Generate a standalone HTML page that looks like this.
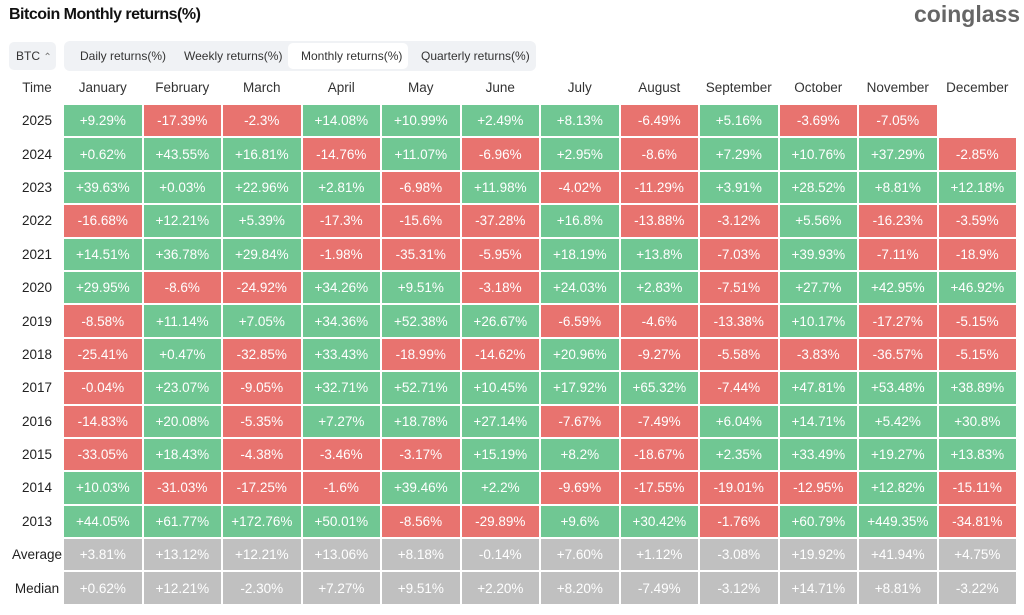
<!DOCTYPE html>
<html><head><meta charset="utf-8"><style>
body{margin:0;width:1024px;height:615px;background:#fff;font-family:"Liberation Sans",sans-serif;position:relative;overflow:hidden}
.title{position:absolute;left:9px;top:6px;font-size:16px;font-weight:bold;color:#111;letter-spacing:-0.5px}
.logo{position:absolute;left:914px;top:1px;font-size:23px;font-weight:bold;color:#666;letter-spacing:0px}
.btc{position:absolute;left:9px;top:42px;width:47px;height:28px;background:#f0f2f5;border-radius:5px;font-size:12px;color:#333;line-height:28px;text-indent:7px}
.tabs{position:absolute;left:64px;top:41px;width:472px;height:30px;background:#f0f2f5;border-radius:6px;font-size:12px;color:#333}
.tabs span{position:absolute;top:0;line-height:30px}
.act{position:absolute;left:224px;top:2px;width:120px;height:26px;background:#fff;border-radius:5px}
table{position:absolute;left:0;top:69.6px;border-collapse:separate;border-spacing:2px;table-layout:fixed}
td{height:31.4px;padding:0;text-align:center;font-size:13.5px;color:#fff;width:77.5px}
td.t{width:60px;color:#222;font-size:13.5px;padding-left:10px;width:50px}
tr.h td{color:#333}
.g{background:#70c793}.r{background:#e8736f}.a{background:#c0c0c0}
</style></head><body>
<div class="title">Bitcoin Monthly returns(%)</div>
<div class="logo">coinglass</div>
<div class="btc">BTC <span style="font-size:10px;color:#777">⌃</span></div>
<div class="tabs"><div class="act"></div><span style="left:16px">Daily returns(%)</span><span style="left:120px">Weekly returns(%)</span><span style="left:237px">Monthly returns(%)</span><span style="left:357px">Quarterly returns(%)</span></div>
<table>
<tr class="h"><td class="t">Time</td><td>January</td><td>February</td><td>March</td><td>April</td><td>May</td><td>June</td><td>July</td><td>August</td><td>September</td><td>October</td><td>November</td><td>December</td></tr>
<tr><td class="t">2025</td><td class="g">+9.29%</td><td class="r">-17.39%</td><td class="r">-2.3%</td><td class="g">+14.08%</td><td class="g">+10.99%</td><td class="g">+2.49%</td><td class="g">+8.13%</td><td class="r">-6.49%</td><td class="g">+5.16%</td><td class="r">-3.69%</td><td class="r">-7.05%</td><td></td></tr>
<tr><td class="t">2024</td><td class="g">+0.62%</td><td class="g">+43.55%</td><td class="g">+16.81%</td><td class="r">-14.76%</td><td class="g">+11.07%</td><td class="r">-6.96%</td><td class="g">+2.95%</td><td class="r">-8.6%</td><td class="g">+7.29%</td><td class="g">+10.76%</td><td class="g">+37.29%</td><td class="r">-2.85%</td></tr>
<tr><td class="t">2023</td><td class="g">+39.63%</td><td class="g">+0.03%</td><td class="g">+22.96%</td><td class="g">+2.81%</td><td class="r">-6.98%</td><td class="g">+11.98%</td><td class="r">-4.02%</td><td class="r">-11.29%</td><td class="g">+3.91%</td><td class="g">+28.52%</td><td class="g">+8.81%</td><td class="g">+12.18%</td></tr>
<tr><td class="t">2022</td><td class="r">-16.68%</td><td class="g">+12.21%</td><td class="g">+5.39%</td><td class="r">-17.3%</td><td class="r">-15.6%</td><td class="r">-37.28%</td><td class="g">+16.8%</td><td class="r">-13.88%</td><td class="r">-3.12%</td><td class="g">+5.56%</td><td class="r">-16.23%</td><td class="r">-3.59%</td></tr>
<tr><td class="t">2021</td><td class="g">+14.51%</td><td class="g">+36.78%</td><td class="g">+29.84%</td><td class="r">-1.98%</td><td class="r">-35.31%</td><td class="r">-5.95%</td><td class="g">+18.19%</td><td class="g">+13.8%</td><td class="r">-7.03%</td><td class="g">+39.93%</td><td class="r">-7.11%</td><td class="r">-18.9%</td></tr>
<tr><td class="t">2020</td><td class="g">+29.95%</td><td class="r">-8.6%</td><td class="r">-24.92%</td><td class="g">+34.26%</td><td class="g">+9.51%</td><td class="r">-3.18%</td><td class="g">+24.03%</td><td class="g">+2.83%</td><td class="r">-7.51%</td><td class="g">+27.7%</td><td class="g">+42.95%</td><td class="g">+46.92%</td></tr>
<tr><td class="t">2019</td><td class="r">-8.58%</td><td class="g">+11.14%</td><td class="g">+7.05%</td><td class="g">+34.36%</td><td class="g">+52.38%</td><td class="g">+26.67%</td><td class="r">-6.59%</td><td class="r">-4.6%</td><td class="r">-13.38%</td><td class="g">+10.17%</td><td class="r">-17.27%</td><td class="r">-5.15%</td></tr>
<tr><td class="t">2018</td><td class="r">-25.41%</td><td class="g">+0.47%</td><td class="r">-32.85%</td><td class="g">+33.43%</td><td class="r">-18.99%</td><td class="r">-14.62%</td><td class="g">+20.96%</td><td class="r">-9.27%</td><td class="r">-5.58%</td><td class="r">-3.83%</td><td class="r">-36.57%</td><td class="r">-5.15%</td></tr>
<tr><td class="t">2017</td><td class="r">-0.04%</td><td class="g">+23.07%</td><td class="r">-9.05%</td><td class="g">+32.71%</td><td class="g">+52.71%</td><td class="g">+10.45%</td><td class="g">+17.92%</td><td class="g">+65.32%</td><td class="r">-7.44%</td><td class="g">+47.81%</td><td class="g">+53.48%</td><td class="g">+38.89%</td></tr>
<tr><td class="t">2016</td><td class="r">-14.83%</td><td class="g">+20.08%</td><td class="r">-5.35%</td><td class="g">+7.27%</td><td class="g">+18.78%</td><td class="g">+27.14%</td><td class="r">-7.67%</td><td class="r">-7.49%</td><td class="g">+6.04%</td><td class="g">+14.71%</td><td class="g">+5.42%</td><td class="g">+30.8%</td></tr>
<tr><td class="t">2015</td><td class="r">-33.05%</td><td class="g">+18.43%</td><td class="r">-4.38%</td><td class="r">-3.46%</td><td class="r">-3.17%</td><td class="g">+15.19%</td><td class="g">+8.2%</td><td class="r">-18.67%</td><td class="g">+2.35%</td><td class="g">+33.49%</td><td class="g">+19.27%</td><td class="g">+13.83%</td></tr>
<tr><td class="t">2014</td><td class="g">+10.03%</td><td class="r">-31.03%</td><td class="r">-17.25%</td><td class="r">-1.6%</td><td class="g">+39.46%</td><td class="g">+2.2%</td><td class="r">-9.69%</td><td class="r">-17.55%</td><td class="r">-19.01%</td><td class="r">-12.95%</td><td class="g">+12.82%</td><td class="r">-15.11%</td></tr>
<tr><td class="t">2013</td><td class="g">+44.05%</td><td class="g">+61.77%</td><td class="g">+172.76%</td><td class="g">+50.01%</td><td class="r">-8.56%</td><td class="r">-29.89%</td><td class="g">+9.6%</td><td class="g">+30.42%</td><td class="r">-1.76%</td><td class="g">+60.79%</td><td class="g">+449.35%</td><td class="r">-34.81%</td></tr>
<tr><td class="t">Average</td><td class="a">+3.81%</td><td class="a">+13.12%</td><td class="a">+12.21%</td><td class="a">+13.06%</td><td class="a">+8.18%</td><td class="a">-0.14%</td><td class="a">+7.60%</td><td class="a">+1.12%</td><td class="a">-3.08%</td><td class="a">+19.92%</td><td class="a">+41.94%</td><td class="a">+4.75%</td></tr>
<tr><td class="t">Median</td><td class="a">+0.62%</td><td class="a">+12.21%</td><td class="a">-2.30%</td><td class="a">+7.27%</td><td class="a">+9.51%</td><td class="a">+2.20%</td><td class="a">+8.20%</td><td class="a">-7.49%</td><td class="a">-3.12%</td><td class="a">+14.71%</td><td class="a">+8.81%</td><td class="a">-3.22%</td></tr>
</table>
</body></html>
